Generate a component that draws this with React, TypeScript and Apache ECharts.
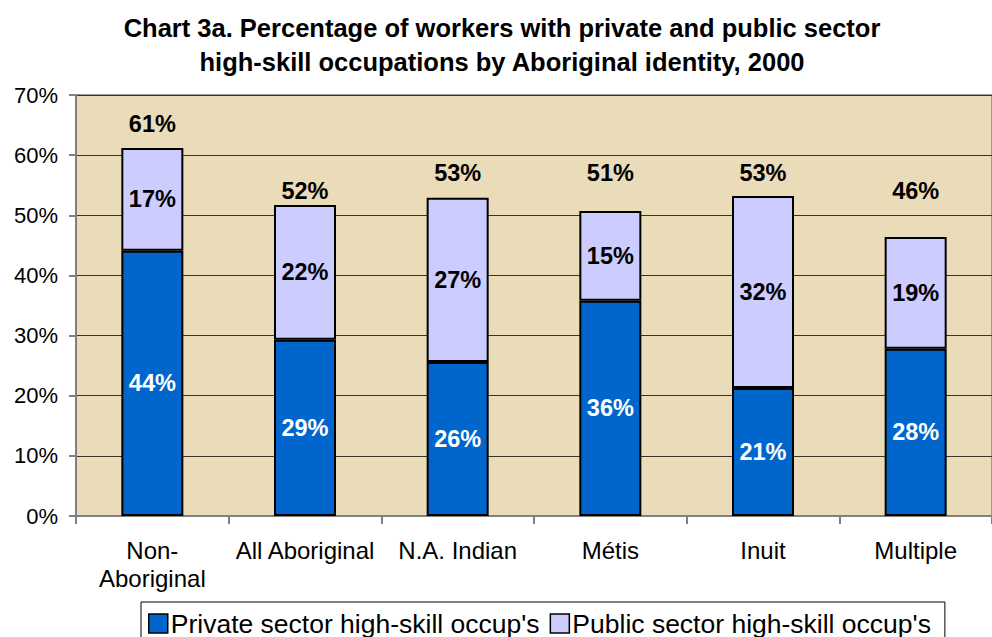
import React, { useEffect, useRef } from "react";
import * as echarts from "echarts";

const categories = ["Non-\nAboriginal", "All Aboriginal", "N.A. Indian", "Métis", "Inuit", "Multiple"];
const privateSector = [44.1, 29.3, 25.6, 35.8, 21.3, 27.8];
const publicSector = [17.1, 22.4, 27.3, 14.9, 31.9, 18.6];
const seriesNames = ["Private sector high-skill occup's", "Public sector high-skill occup's"];
const totals = privateSector.map((v, i) => v + publicSector[i]);
// vertical lift (px) of each total label above its bar
const totalLabelLift = [24, 14, 25, 38, 23, 46];

const FONT = "Arial, 'Liberation Sans', sans-serif";

export default function App() {
  const ref = useRef<HTMLDivElement>(null);
  useEffect(() => {
    if (!ref.current) return;
    const chart = echarts.init(ref.current, undefined, { renderer: "svg" });
    const pct = (p: any) => Math.round(p.value) + "%";
    chart.setOption({
      animation: false,
      textStyle: { fontFamily: FONT },
      title: {
        text: "Chart 3a. Percentage of workers with private and public sector\nhigh-skill occupations by Aboriginal identity, 2000",
        left: 497,
        textAlign: "center",
        top: 6,
        textStyle: { fontFamily: FONT, fontWeight: "bold", fontSize: 25.5, lineHeight: 34, color: "#000" },
      },
      legend: {
        data: seriesNames,
        left: 141,
        top: 602,
        orient: "horizontal",
        icon: "rect",
        itemWidth: 19,
        itemHeight: 19,
        itemGap: 10,
        padding: [8, 14, 12, 7],
        borderColor: "#000",
        borderWidth: 1,
        backgroundColor: "#fff",
        itemStyle: { borderColor: "#000", borderWidth: 1.5 },
        textStyle: { fontFamily: FONT, fontSize: 26.5, color: "#000", padding: [0, 0, 0, -2] },
      },
      grid: {
        left: 76,
        top: 95,
        right: -8,
        bottom: 121,
        show: true,
        backgroundColor: "#EBDCB9",
        borderColor: "#9a9a9a",
        borderWidth: 2,
      },
      xAxis: {
        type: "category",
        data: categories,
        axisLine: { show: true, lineStyle: { color: "#808080", width: 2 } },
        axisTick: { show: true, length: 8, lineStyle: { color: "#808080", width: 2 } },
        axisLabel: { color: "#000", fontSize: 24, lineHeight: 28, margin: 20, fontFamily: FONT, interval: 0 },
      },
      yAxis: {
        type: "value",
        min: 0,
        max: 70,
        interval: 10,
        axisLine: { show: true, lineStyle: { color: "#808080", width: 2 } },
        axisTick: { show: true, length: 7, lineStyle: { color: "#808080", width: 2 } },
        axisLabel: { formatter: "{value}%", color: "#000", fontSize: 22, margin: 18, fontFamily: FONT },
        splitLine: { show: true, lineStyle: { color: "#3a3428", width: 1 } },
      },
      series: [
        {
          name: seriesNames[0],
          type: "bar",
          stack: "s",
          data: privateSector,
          barWidth: 62,
          itemStyle: { color: "#0066CC", borderColor: "#000", borderWidth: 2 },
          label: { show: true, position: "inside", formatter: pct, color: "#fff", fontWeight: "bold", fontSize: 23.5, fontFamily: FONT },
        },
        {
          name: seriesNames[1],
          type: "bar",
          stack: "s",
          data: publicSector,
          barWidth: 62,
          itemStyle: { color: "#CCCCFF", borderColor: "#000", borderWidth: 2 },
          label: { show: true, position: "inside", formatter: pct, color: "#000", fontWeight: "bold", fontSize: 23.5, fontFamily: FONT },
        },
        {
          name: "total",
          type: "scatter",
          symbolSize: 0,
          silent: true,
          itemStyle: { opacity: 1 },
          data: totals.map((t, i) => ({
            value: t,
            label: { offset: [0, -totalLabelLift[i]] },
          })),
          label: { show: true, position: "inside", formatter: pct, color: "#000", fontWeight: "bold", fontSize: 23.5, fontFamily: FONT },
        },
      ],
    });
    return () => chart.dispose();
  }, []);
  return <div ref={ref} style={{ position: "absolute", left: 0, top: 0, width: 992, height: 637, background: "#fff" }} />;
}
